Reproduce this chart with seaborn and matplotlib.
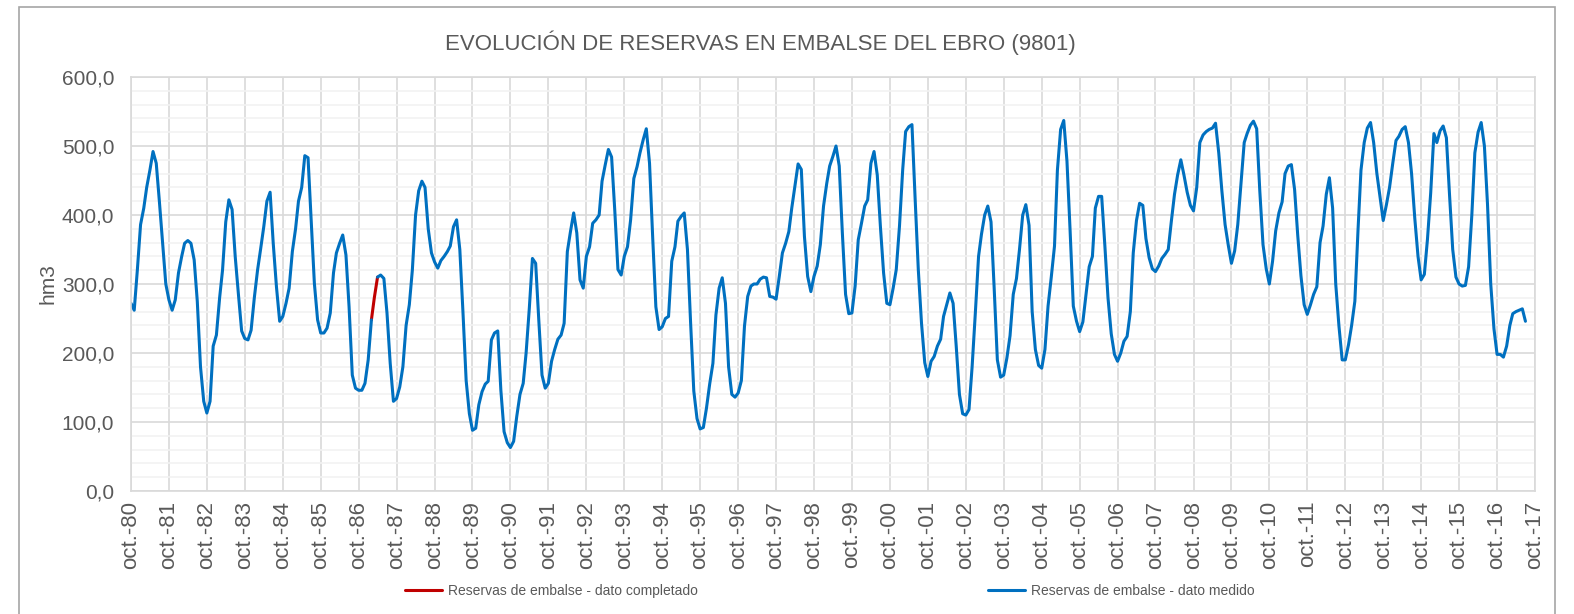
import numpy as np
import pandas as pd
import matplotlib
matplotlib.use("Agg")
import matplotlib.pyplot as plt
from matplotlib.lines import Line2D
from matplotlib.patches import Rectangle
from matplotlib.ticker import FuncFormatter, MultipleLocator
import seaborn as sns

titulo = "EVOLUCIÓN DE RESERVAS EN EMBALSE DEL EBRO (9801)"
etiqueta_y = "hm3"
serie_medido = "Reservas de embalse - dato medido"
serie_completado = "Reservas de embalse - dato completado"
inicio = "1980-10-01"

# reservas mensuales medidas (hm3), una fila por año hidrológico (oct-sep)
medido = [
    [272, 262, 320, 386, 410, 440, 465, 492, 475, 420, 360, 300],
    [277, 262, 277, 316, 340, 359, 363, 359, 335, 275, 180, 130],
    [113, 130, 210, 226, 280, 320, 390, 422, 408, 340, 285, 232],
    [221, 219, 233, 280, 320, 350, 383, 420, 433, 359, 296, 246],
    [253, 272, 294, 347, 380, 420, 440, 486, 483, 393, 301, 248],
    [229, 229, 236, 258, 316, 345, 359, 371, 342, 267, 168, 149],
    [146, 146, 156, 190, 248, np.nan, 310, 313, 308, 258, 185, 130],
    [134, 151, 180, 240, 270, 320, 400, 435, 449, 440, 380, 345],
    [332, 323, 334, 340, 347, 355, 383, 393, 350, 260, 160, 112],
    [88, 91, 125, 144, 155, 159, 219, 229, 232, 146, 86, 70],
    [63, 72, 108, 140, 156, 200, 265, 337, 330, 248, 168, 149],
    [156, 188, 205, 220, 226, 243, 347, 376, 403, 374, 306, 294],
    [340, 354, 388, 393, 400, 449, 473, 495, 484, 408, 321, 313],
    [340, 354, 393, 453, 470, 490, 509, 525, 475, 369, 267, 234],
    [238, 250, 253, 333, 354, 391, 398, 403, 350, 245, 145, 105],
    [90, 92, 120, 155, 185, 255, 294, 309, 272, 180, 140, 136],
    [142, 160, 239, 282, 297, 300, 300, 307, 310, 309, 282, 281],
    [278, 311, 345, 359, 376, 410, 442, 474, 466, 369, 311, 289],
    [311, 326, 357, 413, 446, 471, 485, 500, 471, 374, 285, 257],
    [258, 297, 364, 388, 413, 422, 475, 492, 458, 384, 316, 272],
    [270, 294, 321, 384, 466, 521, 528, 531, 422, 321, 243, 186],
    [166, 188, 195, 210, 220, 253, 270, 287, 272, 210, 140, 112],
    [110, 118, 180, 258, 340, 372, 400, 413, 390, 295, 190, 165],
    [168, 193, 225, 285, 308, 350, 400, 415, 385, 260, 205, 182],
    [178, 205, 268, 310, 355, 465, 524, 537, 478, 378, 268, 246],
    [231, 245, 285, 325, 340, 410, 427, 427, 355, 280, 228, 198],
    [188, 200, 217, 224, 260, 345, 392, 417, 414, 366, 338, 322],
    [318, 326, 337, 343, 350, 390, 430, 458, 480, 458, 433, 414],
    [406, 440, 505, 516, 521, 524, 526, 533, 490, 435, 386, 356],
    [330, 348, 386, 445, 505, 518, 530, 536, 525, 435, 357, 322],
    [300, 333, 377, 403, 419, 460, 471, 473, 437, 371, 312, 270],
    [256, 270, 285, 296, 360, 384, 430, 454, 410, 300, 239, 190],
    [190, 212, 240, 275, 380, 465, 505, 526, 534, 505, 460, 425],
    [392, 415, 440, 475, 508, 514, 524, 528, 505, 460, 395, 340],
    [306, 314, 365, 432, 518, 505, 522, 529, 512, 430, 350, 310],
    [300, 297, 298, 325, 400, 490, 520, 534, 500, 415, 300, 235],
    [198, 198, 194, 210, 240, 257, 260, 262, 264, 246],
]

# tramo completado (hm3)
completado_fechas = ["1987-02-01", "1987-03-01", "1987-04-01"]
completado_valores = [248, 280, 310]

anios_eje = list(range(1980, 2018))

colores = {serie_medido: "#0070C0", serie_completado: "#C00000"}
gris_texto = "#595959"

valores = np.array([v for fila in medido for v in fila], dtype=float)
fechas = pd.date_range(inicio, periods=len(valores), freq="MS")

df = pd.DataFrame({"fecha": fechas, "hm3": valores})
df["tramo"] = df["hm3"].isna().cumsum()
df = df.dropna()
df["serie"] = serie_medido

df_comp = pd.DataFrame({
    "fecha": pd.to_datetime(completado_fechas),
    "hm3": completado_valores,
    "tramo": -1,
    "serie": serie_completado,
})
datos = pd.concat([df_comp, df], ignore_index=True)

sns.set_style("white")
plt.rcParams["font.family"] = ["Liberation Sans", "DejaVu Sans"]

fig = plt.figure(figsize=(15.74, 6.14), dpi=100)
ax = fig.add_axes([131 / 1574, 1 - 491 / 614, 1404 / 1574, 414 / 614])

sns.lineplot(data=datos, x="fecha", y="hm3", hue="serie", units="tramo",
             estimator=None, palette=colores, linewidth=2.2, ax=ax,
             legend=False, sort=False)

ax.set_ylim(0, 600)
ax.yaxis.set_major_locator(MultipleLocator(100))
ax.yaxis.set_minor_locator(MultipleLocator(20))
ax.yaxis.set_major_formatter(FuncFormatter(lambda v, p: f"{v:.1f}".replace(".", ",")))

ticks = pd.to_datetime([f"{a}-10-01" for a in anios_eje])
ax.set_xlim(ticks[0], ticks[-1])
ax.set_xticks(ticks)
ax.set_xticklabels([f"oct.-{a % 100:02d}" for a in anios_eje], rotation=90)

ax.grid(which="major", axis="both", color="#D9D9D9", linewidth=1.2)
ax.grid(which="minor", axis="y", color="#F2F2F2", linewidth=1.2)
ax.set_axisbelow(True)
for s in ax.spines.values():
    s.set_color("#D9D9D9")
    s.set_linewidth(1.2)

ax.tick_params(axis="both", which="both", length=0, labelcolor=gris_texto)
ax.tick_params(axis="y", labelsize=15, pad=12)
ax.tick_params(axis="x", labelsize=16, pad=7)
ax.set_xlabel("")
ax.set_ylabel(etiqueta_y, fontsize=15, color=gris_texto, labelpad=3)

fig.text(760 / 1574, 1 - 43 / 614, titulo, ha="center", va="center",
         fontsize=16, color=gris_texto)

handles = [Line2D([], [], color=colores[serie_completado], lw=2.2),
           Line2D([], [], color=colores[serie_medido], lw=2.2)]
leg = fig.legend(handles, [serie_completado, serie_medido], loc="center",
                 bbox_to_anchor=(830 / 1574, 1 - 591 / 614), ncol=2,
                 frameon=False, fontsize=10, handlelength=2.64,
                 handletextpad=0.43, columnspacing=20.9)
for t in leg.get_texts():
    t.set_color(gris_texto)

fig.patches.append(Rectangle((19 / 1574, -0.02), 1536 / 1574, 1.02 - 7 / 614,
                             transform=fig.transFigure, fill=False,
                             edgecolor="#A6A6A6", linewidth=1.2))

fig.savefig("out.png", dpi=100)
